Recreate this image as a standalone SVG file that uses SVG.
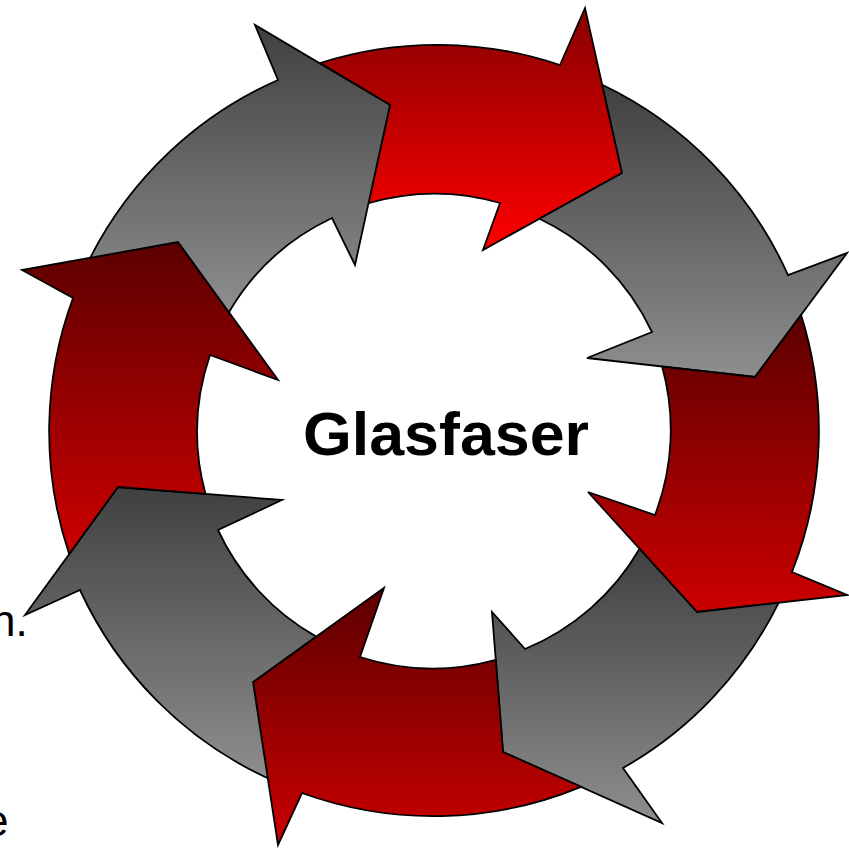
<svg xmlns="http://www.w3.org/2000/svg" width="849" height="848" viewBox="0 0 849 848">
  <defs>
    <linearGradient id="gGray" x1="0" y1="0" x2="0" y2="1">
      <stop offset="0" stop-color="#404040"/>
      <stop offset="1" stop-color="#8e8e8e"/>
    </linearGradient>
    <linearGradient id="gRed" x1="0" y1="0" x2="0" y2="1">
      <stop offset="0" stop-color="#5c0000"/>
      <stop offset="1" stop-color="#cc0000"/>
    </linearGradient>
    <linearGradient id="gRedBright" x1="0" y1="0" x2="0" y2="1">
      <stop offset="0" stop-color="#860000"/>
      <stop offset="1" stop-color="#ff0000"/>
    </linearGradient>
    <style>
      .arrow { stroke: #000; stroke-width: 1.8; stroke-linejoin: miter; }
      .gray { fill: url(#gGray); }
      .red { fill: url(#gRed); }
      .redb { fill: url(#gRedBright); }
      .title { font-family: "Liberation Sans", Arial, sans-serif; font-weight: bold; font-size: 62px; fill: #000; }
      .stray { font-family: "Liberation Sans", Arial, sans-serif; font-size: 44px; fill: #000; }
    </style>
  </defs>
  <rect width="849" height="848" fill="#fff"/>
  <g id="stray-text">
    <text class="stray" x="-9" y="636">n.</text>
    <text class="stray" x="-16" y="836">e</text>
  </g>
  <g id="cycle">
    <g id="arrow1">
      <path class="arrow redb" d="M320,63 A385,385 0 0 1 560,65 L585,8 L622,173 L483,250 L500,203 A237,237 0 0 0 368.5,203.2 L390,105 Z"/>
    </g>
    <g id="arrow2">
      <path class="arrow gray" d="M602.2,84.7 A385,385 0 0 1 788,275 L847,253 L755,377 L587,358 L652,332 A237,237 0 0 0 539.4,218.7 L622,173 Z"/>
    </g>
    <g id="arrow3">
      <path class="arrow red" d="M801.1,314.9 A385,385 0 0 1 792,572 L847,595 L697,612 L588,492 L655,515 A237,237 0 0 0 662.1,366.5 L755,377 Z"/>
    </g>
    <g id="arrow4">
      <path class="arrow gray" d="M778.6,602.8 A385,385 0 0 1 623,768 L662,823 L503,752 L492,612 L525,649 A237,237 0 0 0 639.6,548.8 L697,612 Z"/>
    </g>
    <g id="arrow5">
      <path class="arrow red" d="M581,786.8 A385,385 0 0 1 302,793 L278,845 L253,682 L384,588 L360,657 A237,237 0 0 0 495.8,659.8 L503,752 Z"/>
    </g>
    <g id="arrow6">
      <path class="arrow gray" d="M267.8,778.3 A385,385 0 0 1 80,590 L25,615 L118,487 L282,500 L218,530 A237,237 0 0 0 316.2,636.6 L253,682 Z"/>
    </g>
    <g id="arrow7">
      <path class="arrow red" d="M69.2,554.1 A385,385 0 0 1 73,298 L22,270 L178,242 L278,380 L210,355 A237,237 0 0 0 205.5,493.9 L118,487 Z"/>
    </g>
    <g id="arrow8">
      <path class="arrow gray" d="M90.2,257.8 A385,385 0 0 1 278,80 L255,25 L390,105 L355,265 L332,218 A237,237 0 0 0 228.9,312.2 L178,242 Z"/>
    </g>
  </g>
  <g id="center-label">
    <text class="title" x="303" y="455" textLength="286" lengthAdjust="spacingAndGlyphs">Glasfaser</text>
  </g>
</svg>
